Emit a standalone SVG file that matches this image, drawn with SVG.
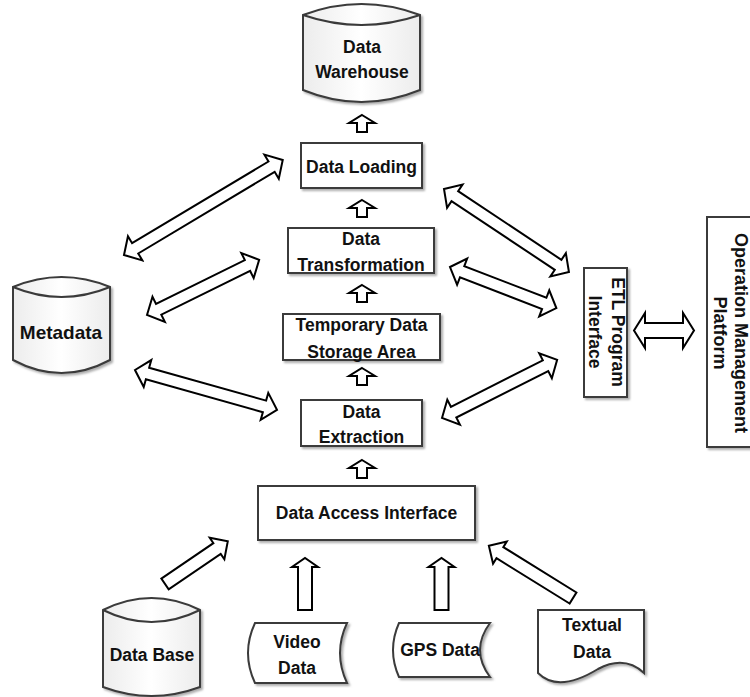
<svg xmlns="http://www.w3.org/2000/svg" width="750" height="697" viewBox="0 0 750 697">
<style>
  .box { fill: #ffffff; stroke: #3a3a3a; stroke-width: 2; filter: url(#sh); }
  .cyl { fill: url(#cg); stroke: #3a3a3a; stroke-width: 2; filter: url(#sh); }
  .ln { fill: none; stroke: #3a3a3a; stroke-width: 2; }
  .arr { fill: #ffffff; stroke: #000000; stroke-width: 2; stroke-linejoin: miter; }
  text { font-family: "Liberation Sans", Arial, sans-serif; font-weight: bold; font-size: 17.5px; fill: #111111; text-anchor: middle; }
  .big { font-size: 19px; }
  .omp { font-size: 18px; }
</style>
<defs>
  <filter id="sh" x="-10%" y="-10%" width="130%" height="130%">
    <feDropShadow dx="2" dy="2" stdDeviation="1" flood-color="#777777" flood-opacity="0.6"/>
  </filter>
  <linearGradient id="cg" x1="0" y1="0" x2="1" y2="0">
    <stop offset="0" stop-color="#ececec"/>
    <stop offset="0.5" stop-color="#ffffff"/>
    <stop offset="1" stop-color="#ececec"/>
  </linearGradient>
</defs>

<g id="connectors">
  <!-- central upward arrows -->
  <path class="arr" d="M362,115 L375,123 L367,123 L367,132 L357,132 L357,123 L349,123 Z"/>
  <path class="arr" d="M362,200 L375,208 L367,208 L367,217 L357,217 L357,208 L349,208 Z"/>
  <path class="arr" d="M362,285 L375,293 L367,293 L367,302 L357,302 L357,293 L349,293 Z"/>
  <path class="arr" d="M362,368 L375,376 L367,376 L367,385 L357,385 L357,376 L349,376 Z"/>
  <path class="arr" d="M362,460 L375,468 L367,468 L367,478 L357,478 L357,468 L349,468 Z"/>
  <!-- left double arrows (Metadata) -->
  <path class="arr" transform="translate(124,255) rotate(-30.9)" d="M0,0 L13,-14 L13,-6 L172,-6 L172,-14 L185,0 L172,14 L172,6 L13,6 L13,14 Z"/>
  <path class="arr" transform="translate(147,315) rotate(-26.2)" d="M0,0 L13,-14 L13,-6 L112,-6 L112,-14 L125,0 L112,14 L112,6 L13,6 L13,14 Z"/>
  <path class="arr" transform="translate(135,370) rotate(15.7)" d="M0,0 L13,-14 L13,-6 L134.5,-6 L134.5,-14 L147.5,0 L134.5,14 L134.5,6 L13,6 L13,14 Z"/>
  <!-- right double arrows (ETL) -->
  <path class="arr" transform="translate(444,189) rotate(33.6)" d="M0,0 L13,-14 L13,-6 L137,-6 L137,-14 L150,0 L137,14 L137,6 L13,6 L13,14 Z"/>
  <path class="arr" transform="translate(450,267) rotate(21.1)" d="M0,0 L13,-14 L13,-6 L101,-6 L101,-14 L114,0 L101,14 L101,6 L13,6 L13,14 Z"/>
  <path class="arr" transform="translate(442,418) rotate(-26.8)" d="M0,0 L13,-14 L13,-6 L116,-6 L116,-14 L129,0 L116,14 L116,6 L13,6 L13,14 Z"/>
  <!-- ETL <-> Operation Management Platform -->
  <path class="arr" d="M634,330.5 L645,313 L645,323 L683,323 L683,313 L694,330.5 L683,348 L683,338 L645,338 L645,348 Z"/>
  <!-- bottom arrows into Data Access Interface -->
  <path class="arr" transform="translate(165,584) rotate(-34.3)" d="M0,-6.5 L63,-6.5 L63,-13 L76,0 L63,13 L63,6.5 L0,6.5 Z"/>
  <path class="arr" d="M298,610 L298,567 L292,567 L305,558 L318,567 L312,567 L312,610 Z"/>
  <path class="arr" d="M434.5,610 L434.5,567 L428.5,567 L441.5,558 L454.5,567 L448.5,567 L448.5,610 Z"/>
  <path class="arr" transform="translate(573,598) rotate(-148.2)" d="M0,-6.5 L86,-6.5 L86,-13 L99,0 L86,13 L86,6.5 L0,6.5 Z"/>
</g>

<g id="data-warehouse">
  <path class="cyl" d="M303,15 Q361.5,-7 420,15 L420,90 Q361.5,114 303,90 Z"/>
  <path class="ln" d="M303,15 Q361.5,35 420,15"/>
  <text x="362" y="53">Data</text>
  <text x="362" y="78">Warehouse</text>
</g>

<g id="data-loading">
  <rect class="box" x="301" y="143" width="121" height="45"/>
  <text x="361.5" y="173">Data Loading</text>
</g>

<g id="data-transformation">
  <rect class="box" x="288" y="228" width="146" height="45"/>
  <text x="361" y="245">Data</text>
  <text x="361" y="271">Transformation</text>
</g>

<g id="temporary-storage">
  <rect class="box" x="283" y="314" width="157" height="46"/>
  <text x="361.5" y="331">Temporary Data</text>
  <text x="361.5" y="358">Storage Area</text>
</g>

<g id="data-extraction">
  <rect class="box" x="301" y="400" width="121" height="46"/>
  <text x="361.5" y="418">Data</text>
  <text x="361.5" y="443">Extraction</text>
</g>

<g id="data-access-interface">
  <rect class="box" x="258" y="486" width="217" height="54"/>
  <text x="366.5" y="519">Data Access Interface</text>
</g>

<g id="metadata">
  <path class="cyl" d="M13,287 Q61.5,267 110,287 L110,360 Q61.5,386 13,360 Z"/>
  <path class="ln" d="M13,287 Q61.5,307 110,287"/>
  <text class="big" x="61" y="339">Metadata</text>
</g>

<g id="etl-program-interface">
  <rect class="box" x="584" y="268" width="43" height="129"/>
  <text transform="translate(606,332) rotate(90)" x="0" y="-6">ETL Program</text>
  <text transform="translate(606,332) rotate(90)" x="0" y="17">Interface</text>
</g>

<g id="operation-management-platform">
  <rect class="box" x="707" y="217" width="60" height="230"/>
  <text class="omp" transform="translate(731,333) rotate(90)" x="0" y="-3.5">Operation Management</text>
  <text class="omp" transform="translate(731,333) rotate(90)" x="0" y="17.5">Platform</text>
</g>

<g id="data-base">
  <path class="cyl" d="M103,610 Q151.5,586 200,610 L200,687 Q151.5,705 103,687 Z"/>
  <path class="ln" d="M103,610 Q151.5,634 200,610"/>
  <text x="152" y="661">Data Base</text>
</g>

<g id="video-data">
  <path class="box" d="M255,623 L347,623 Q333,653 347,683 L255,683 Q241,653 255,623 Z"/>
  <text x="297" y="648">Video</text>
  <text x="297" y="674">Data</text>
</g>

<g id="gps-data">
  <path class="box" d="M399,623 L490,623 Q470,650 490,677 L399,677 Q387,650 399,623 Z"/>
  <text x="440" y="656">GPS Data</text>
</g>

<g id="textual-data">
  <path class="box" d="M538,610 L644,610 L644,673 C630,660 615,660 598,669 C580,680 555,690 538,673 Z"/>
  <text x="592" y="631">Textual</text>
  <text x="592" y="658">Data</text>
</g>
</svg>
